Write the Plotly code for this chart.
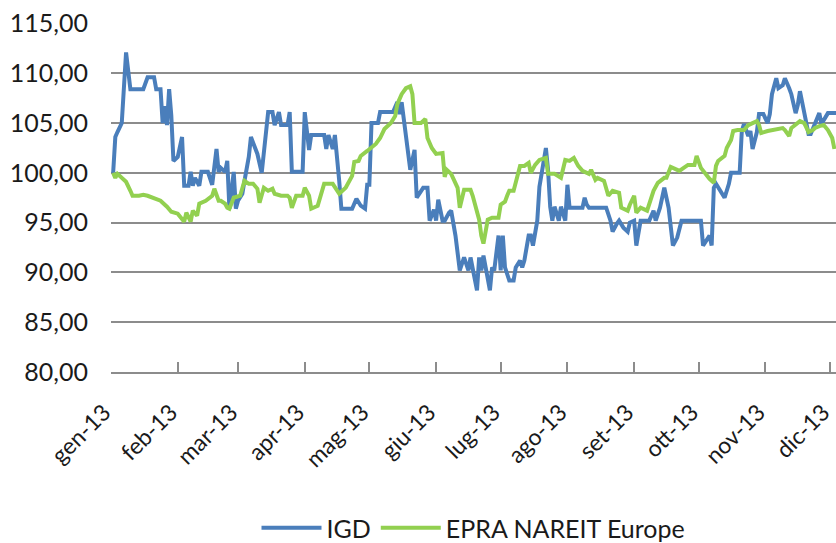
import pandas as pd
import plotly.graph_objects as go

# Month tick labels (Italian)
month_labels = ["gen-13", "feb-13", "mar-13", "apr-13", "mag-13", "giu-13",
                "lug-13", "ago-13", "set-13", "ott-13", "nov-13", "dic-13"]
month_starts = [d.strftime("%Y-%m-%d") for d in pd.date_range("2013-01-01", periods=12, freq="MS")]

# IGD: day offset from 1 Jan 2013, index value
igd_day = [1, 2, 3, 5, 7, 8, 9, 15, 17, 20, 21, 23, 24, 25, 26, 27, 28, 29, 31, 33,
           34, 36, 37, 38, 39, 41, 42, 45, 47, 49, 50, 51, 53, 54, 55, 57, 58, 59, 61, 62,
           64, 65, 67, 68, 70, 72, 73, 75, 76, 78, 79, 82, 83, 84, 89, 90, 92, 93, 99, 100,
           101, 103, 104, 106, 107, 112, 114, 116, 118, 119, 120, 121, 124, 125, 131, 133, 134, 135, 136, 138,
           139, 141, 142, 145, 147, 148, 150, 151, 152, 154, 155, 157, 158, 160, 162, 164, 166, 167, 168, 170,
           171, 172, 173, 176, 177, 178, 180, 181, 182, 183, 185, 187, 188, 190, 191, 192, 194, 195, 196, 198,
           199, 202, 203, 204, 205, 206, 208, 209, 211, 212, 213, 219, 220, 221, 222, 230, 232, 233, 235, 236,
           238, 240, 241, 243, 244, 246, 250, 252, 253, 255, 257, 259, 261, 263, 265, 274, 275, 277, 278, 279,
           280, 281, 285, 287, 288, 292, 293, 294, 296, 297, 298, 300, 301, 303, 305, 306, 307, 309, 310, 312,
           313, 315, 316, 318, 319, 320, 322, 324, 325, 327, 329, 330, 333, 337]
igd_val = [100.0, 103.6, 104.1, 105.0, 112.1, 110.6, 108.4, 108.4, 109.6, 109.6, 108.4, 108.4, 105.0, 106.7, 104.8, 108.4, 105.8, 101.2, 101.6, 103.6,
           98.7, 98.7, 100.1, 98.7, 99.5, 98.7, 100.1, 100.1, 98.8, 102.4, 100.1, 100.5, 100.1, 101.2, 96.4, 100.1, 96.4, 97.2, 97.9, 99.2,
           101.6, 103.6, 102.6, 101.9, 100.0, 103.6, 106.1, 106.1, 104.8, 106.1, 104.8, 104.8, 106.1, 100.1, 100.1, 106.1, 102.3, 103.8, 103.8, 102.4,
           103.8, 102.4, 103.8, 99.2, 96.4, 96.4, 97.4, 96.7, 96.4, 98.8, 98.8, 105.0, 105.0, 106.1, 106.1, 107.1, 105.9, 107.1, 105.4, 102.3,
           100.3, 102.3, 97.5, 98.5, 98.5, 95.2, 96.3, 95.2, 97.3, 95.2, 95.2, 96.0, 96.2, 93.7, 90.2, 91.5, 90.2, 91.5, 90.2, 88.2,
           91.5, 90.2, 91.7, 88.2, 90.5, 90.2, 93.7, 90.2, 93.7, 90.5, 89.2, 89.2, 90.5, 91.2, 90.5, 91.2, 93.7, 93.7, 92.7, 95.2,
           98.6, 102.5, 100.3, 96.6, 95.2, 96.6, 95.2, 96.6, 95.2, 98.8, 96.5, 96.5, 97.5, 96.8, 96.5, 96.5, 95.2, 94.1, 94.9, 95.2,
           94.5, 94.1, 95.0, 95.2, 92.7, 95.2, 95.2, 96.2, 95.2, 96.5, 98.5, 96.5, 92.7, 93.5, 95.2, 95.2, 92.7, 93.3, 93.7, 92.7,
           98.5, 98.9, 97.5, 98.9, 100.0, 100.0, 104.2, 104.9, 103.7, 104.2, 102.4, 104.1, 105.9, 105.9, 105.0, 105.9, 107.9, 109.5, 108.5, 108.8,
           109.5, 108.5, 107.9, 106.0, 106.8, 108.2, 106.0, 103.9, 103.9, 104.9, 106.0, 104.9, 106.0, 106.0]

# EPRA NAREIT Europe: day offset from 1 Jan 2013, index value
epra_day = [1, 2, 3, 5, 7, 9, 10, 13, 15, 17, 20, 23, 26, 28, 31, 34, 35, 37, 38, 40,
            41, 44, 47, 48, 50, 51, 53, 54, 55, 57, 60, 61, 62, 64, 66, 68, 69, 71, 73, 75,
            76, 79, 82, 83, 84, 86, 89, 90, 92, 93, 96, 99, 103, 106, 109, 112, 113, 115, 116, 119,
            123, 125, 127, 130, 132, 133, 135, 137, 139, 140, 141, 144, 146, 147, 149, 151, 154, 155, 156, 158,
            161, 162, 164, 167, 168, 171, 172, 173, 175, 177, 180, 181, 183, 184, 185, 187, 188, 190, 192, 194,
            195, 197, 199, 202, 203, 206, 209, 211, 213, 215, 217, 219, 222, 223, 225, 226, 229, 231, 233, 236,
            237, 240, 241, 243, 244, 246, 249, 250, 252, 254, 257, 258, 260, 263, 264, 266, 268, 271, 272, 274,
            276, 278, 280, 281, 282, 285, 286, 288, 289, 291, 294, 296, 298, 300, 301, 302, 305, 308, 312, 313,
            315, 316, 318, 320, 322, 324, 326, 327, 329, 331, 333, 335, 336]
epra_val = [100.0, 99.5, 99.9, 99.5, 99.1, 98.2, 97.7, 97.7, 97.8, 97.7, 97.5, 97.2, 96.6, 96.1, 95.9, 95.1, 96.0, 95.1, 96.2, 95.7,
            96.9, 97.2, 97.7, 98.4, 97.2, 97.2, 96.9, 96.5, 96.4, 97.5, 97.7, 98.4, 99.2, 98.9, 98.9, 98.4, 97.0, 98.5, 98.2, 98.4,
            97.9, 97.7, 97.7, 97.5, 96.5, 97.7, 97.7, 98.5, 97.7, 96.4, 96.7, 98.9, 98.9, 97.9, 98.5, 99.7, 101.1, 101.2, 101.7, 102.2,
            102.9, 103.5, 104.4, 105.0, 105.7, 106.9, 107.9, 108.5, 108.7, 107.9, 105.0, 105.0, 105.4, 103.5, 102.5, 101.9, 102.0, 99.6, 100.3, 99.9,
            98.5, 96.5, 98.3, 98.3, 97.7, 95.3, 93.7, 92.9, 95.3, 95.5, 95.5, 96.8, 97.1, 97.7, 98.2, 98.2, 99.0, 100.7, 100.7, 101.0,
            100.0, 100.8, 101.3, 101.5, 99.9, 99.9, 99.5, 101.3, 101.2, 101.5, 100.7, 100.2, 99.9, 100.3, 99.3, 99.5, 99.2, 97.7, 98.2, 98.0,
            96.5, 96.2, 96.8, 97.7, 96.0, 96.5, 96.2, 96.8, 98.2, 99.0, 99.5, 99.5, 100.6, 100.3, 100.2, 100.5, 100.8, 100.8, 101.7, 100.5,
            99.9, 99.4, 99.0, 100.7, 101.2, 101.7, 102.5, 103.3, 104.2, 104.3, 104.3, 104.8, 105.0, 105.2, 104.8, 104.0, 104.2, 104.3, 104.5, 104.3,
            103.7, 104.5, 104.8, 105.2, 105.0, 104.1, 104.3, 104.5, 104.7, 104.8, 104.3, 103.5, 102.4]

base = pd.Timestamp("2013-01-01")
igd_x = [(base + pd.Timedelta(days=d)).strftime("%Y-%m-%d") for d in igd_day]
epra_x = [(base + pd.Timedelta(days=d)).strftime("%Y-%m-%d") for d in epra_day]

FONT = "Lato, 'Open Sans', sans-serif"
TXT = "#1a1a1a"
GRID = "#8c8c8c"

fig = go.Figure()
fig.add_trace(go.Scatter(x=igd_x, y=igd_val, mode="lines", name="IGD",
                         line=dict(color="#4a7ebb", width=4)))
fig.add_trace(go.Scatter(x=epra_x, y=epra_val, mode="lines", name="EPRA NAREIT Europe",
                         line=dict(color="#92d050", width=4)))

fig.update_layout(
    width=836, height=543,
    margin=dict(l=111, r=0, t=23, b=171, autoexpand=False),
    paper_bgcolor="white", plot_bgcolor="white",
    separators=",.",
    font=dict(family=FONT, size=23, color=TXT),
    showlegend=True,
    legend=dict(orientation="h", x=0.5, xanchor="center", y=-0.447, yanchor="middle",
                font=dict(size=25, color=TXT), bgcolor="rgba(0,0,0,0)", itemwidth=60),
    xaxis=dict(
        type="date", automargin=False,
        range=["2013-01-01", "2013-12-03 18:00"],
        tickvals=month_starts, ticktext=month_labels, tickangle=-45,
        ticklabeloverflow="allow",
        showgrid=False, zeroline=False,
        showline=True, linecolor=GRID, linewidth=1.5,
        ticks="inside", ticklen=10, tickcolor=GRID, tickwidth=1.5,
        ticklabelstandoff=16, ticklabelshift=-7,
        tickfont=dict(size=23, color=TXT),
    ),
    yaxis=dict(
        automargin=False,
        range=[80, 115.05], tickvals=[80, 85, 90, 95, 100, 105, 110, 115], tickformat=".2f",
        ticklabeloverflow="allow",
        showgrid=True, gridcolor=GRID, gridwidth=1.5,
        zeroline=False, showline=False, ticks="",
        ticklabelstandoff=22,
        tickfont=dict(size=25, color=TXT),
    ),
)

fig.write_html(
    "out.html",
    config={"displayModeBar": False},
    post_script="document.body.style.margin='0';document.body.style.overflow='hidden';",
)
